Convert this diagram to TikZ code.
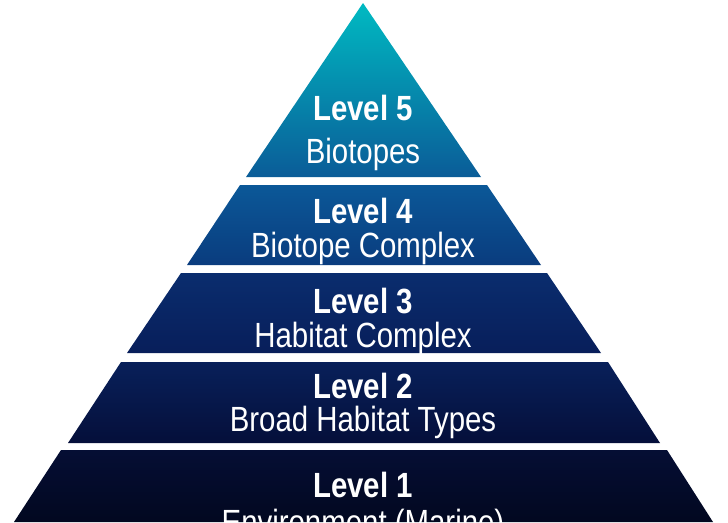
\documentclass[tikz,border=0pt]{standalone}
\usepackage{fontspec}
\newfontfamily\lvfont{Liberation Sans}[FakeStretch=0.84]

\definecolor{pyrEtop}{HTML}{00BAC2}
\definecolor{pyrEbot}{HTML}{0A5C98}
\definecolor{pyrDtop}{HTML}{0B5898}
\definecolor{pyrDbot}{HTML}{0A3C7E}
\definecolor{pyrCtop}{HTML}{0A2D6E}
\definecolor{pyrCbot}{HTML}{081E5A}
\definecolor{pyrBtop}{HTML}{08205A}
\definecolor{pyrBbot}{HTML}{050F3A}
\definecolor{pyrAtop}{HTML}{050E34}
\definecolor{pyrAbot}{HTML}{020820}

% one band of the pyramid: y top, y bottom, x left/right at top, x left/right at bottom, colours
\newcommand{\pyrband}[8]{
	\shade[top color=#7, bottom color=#8] (#3,#1) -- (#4,#1) -- (#6,#2) -- (#5,#2) -- cycle;
}

\tikzset{
	lvtitle/.style={anchor=base, inner sep=0pt, text=white, font=\lvfont\fontsize{35}{35}\selectfont\bfseries},
	lvname/.style={anchor=base, inner sep=0pt, text=white, font=\lvfont\fontsize{35}{35}\selectfont}
}

\begin{document}
\begin{tikzpicture}[x=1pt, y=-1pt]
\useasboundingbox (0,0) rectangle (728,522);
\clip (0,0) rectangle (728,522);

\pgfmathsetmacro{\pyrTop}{3}
\pgfmathsetmacro{\pyrMid}{363}

% level 5 is the tip
\shade[top color=pyrEtop, bottom color=pyrEbot] (\pyrMid,\pyrTop) -- (481,177) -- (246,177) -- cycle;

\pyrband{185}{265}{240}{487}{187}{541}{pyrDtop}{pyrDbot}
\pyrband{273}{353}{181}{547}{127}{601}{pyrCtop}{pyrCbot}
\pyrband{362}{443}{121}{608}{68}{660}{pyrBtop}{pyrBbot}
\pyrband{450}{522}{61}{667}{14}{713}{pyrAtop}{pyrAbot}

\node[lvtitle] (lvEt) at (\pyrMid,120) {Level 5};
\node[lvname]  (lvEn) at (\pyrMid,163) {Biotopes};
\node[lvtitle] (lvDt) at (\pyrMid,223) {Level 4};
\node[lvname]  (lvDn) at (\pyrMid,257) {Biotope Complex};
\node[lvtitle] (lvCt) at (\pyrMid,313) {Level 3};
\node[lvname]  (lvCn) at (\pyrMid,347) {Habitat Complex};
\node[lvtitle] (lvBt) at (\pyrMid,398) {Level 2};
\node[lvname]  (lvBn) at (\pyrMid,431) {Broad Habitat Types};
\node[lvtitle] (lvAt) at (\pyrMid,497) {Level 1};
\node[lvname]  (lvAn) at (\pyrMid,534) {Environment (Marine)};
\end{tikzpicture}
\end{document}
